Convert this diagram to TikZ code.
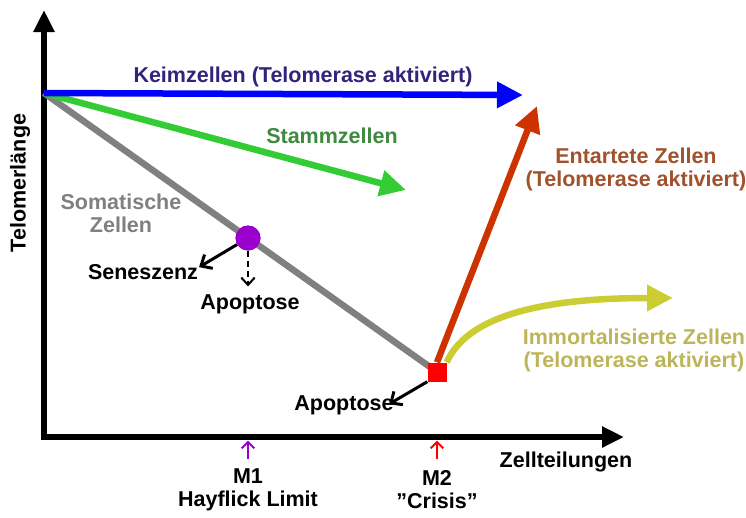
\documentclass[tikz,border=0pt]{standalone}
\usepackage{fontspec}
\setmainfont{Liberation Sans}
\usetikzlibrary{arrows.meta,calc}
\definecolor{keim}{HTML}{33237A}
\definecolor{stamm}{HTML}{3F8A3F}
\definecolor{soma}{HTML}{808080}
\definecolor{entart}{HTML}{A0522D}
\definecolor{immo}{HTML}{BDB55A}
\definecolor{blueline}{HTML}{0000FF}
\definecolor{greenline}{HTML}{33CC33}
\definecolor{redline}{HTML}{CC3300}
\definecolor{yelline}{HTML}{CCCC33}
\definecolor{purp}{HTML}{9900CC}
\tikzset{
  lbl/.style={font=\bfseries\fontsize{21.5}{23}\selectfont, align=center, inner sep=0pt},
  axis/.style={line width=6pt, -{Triangle[length=22pt,width=20pt]}},
  thick arrow/.style={line width=6.5pt, -{Triangle[length=26pt,width=25pt]}},
  small line/.style={black, line width=3pt},
  barb/.style={line width=3pt, line join=miter, line cap=butt},
}
\begin{document}
\begin{tikzpicture}[x=1pt,y=-1pt]
\useasboundingbox (0,0) rectangle (746,517);
% axes
\coordinate (ytip) at (44,10);
\coordinate (xtip) at (624,437);
\coordinate (S) at (44,93);
\draw[axis] (44,440) -- (ytip);
\draw[axis] (41,437) -- (xtip);
% lines
\coordinate (keimtip) at (523,95);
\coordinate (stammtip) at (406,190);
\node[fill=purp, circle, minimum size=25pt, inner sep=0pt] (m1) at (248,238) {};
\node[fill=red, minimum size=19pt, inner sep=0pt] (m2) at (437,372) {};
\draw[soma, line width=6.5pt] (S) -- (m2.center);
\node[fill=purp, circle, minimum size=25pt, inner sep=0pt] at (248,238) {};
\draw[greenline, thick arrow] (S) -- (stammtip);
\draw[blueline, thick arrow] (S) -- (keimtip);
\coordinate (enttip) at (537,106);
\coordinate (immtip) at (673,298);
\draw[redline, thick arrow] (m2.north) -- (enttip);
\draw[yelline, thick arrow] (m2.north east) .. controls (470,310) and (560,298) .. (immtip);
\node[fill=red, minimum size=19pt, inner sep=0pt] at (437,372) {};
% small arrows
\coordinate (sen) at (201,266);
\coordinate (apo1) at (248,285);
\coordinate (apo2) at (391,403);
\draw[small line] (m1) -- ($(sen)!1pt!(m1)$);
\draw[barb, black] ($(sen)!12pt!42:(m1)$) -- (sen) -- ($(sen)!12pt!-42:(m1)$);
\draw[black, line width=2pt, dash pattern=on 6pt off 4pt] (m1.south) -- (apo1);
\draw[barb, black, line width=2pt] ($(apo1)!10pt!42:(m1)$) -- (apo1) -- ($(apo1)!10pt!-42:(m1)$);
\draw[small line] (m2.south west) -- ($(apo2)!1pt!(m2)$);
\draw[barb, black] ($(apo2)!12pt!42:(m2)$) -- (apo2) -- ($(apo2)!12pt!-42:(m2)$);
% labels
\node[lbl, keim] (tkeim) at (303,77) {Keimzellen (Telomerase aktiviert)};
\node[lbl, stamm] (tstamm) at (332,136) {Stammzellen};
\node[lbl, soma] (tsoma) at (121,213) {Somatische\\Zellen};
\node[lbl, entart] (tent) at (636,169) {Entartete Zellen\\(Telomerase aktiviert)};
\node[lbl, immo] (timm) at (634,350) {Immortalisierte Zellen\\(Telomerase aktiviert)};
\node[lbl] (tsen) at (143,272) {Seneszenz};
\node[lbl] (tapo1) at (250,304) {Apoptose};
\node[lbl] (tapo2) at (344,405) {Apoptose};
\node[lbl, rotate=90] (ty) at (20,183) {Telomerlänge};
\node[lbl] (tx) at (566,462) {Zellteilungen};
\node[lbl] (tm1) at (248,490) {M1\\Hayflick Limit};
\node[lbl] (tm2) at (437,490) {M2\\\symbol{34}Crisis\symbol{34}};
\coordinate (m1b) at (248,459);
\coordinate (m1t) at (248,442);
\coordinate (m2b) at (437,459);
\coordinate (m2t) at (437,442);
\draw[purp, line width=2pt] (m1b) -- (m1t);
\draw[barb, purp, line width=2pt] ($(m1t)!9pt!45:(m1b)$) -- (m1t) -- ($(m1t)!9pt!-45:(m1b)$);
\draw[red, line width=2pt] (m2b) -- (m2t);
\draw[barb, red, line width=2pt] ($(m2t)!9pt!45:(m2b)$) -- (m2t) -- ($(m2t)!9pt!-45:(m2b)$);
\end{tikzpicture}
\end{document}
